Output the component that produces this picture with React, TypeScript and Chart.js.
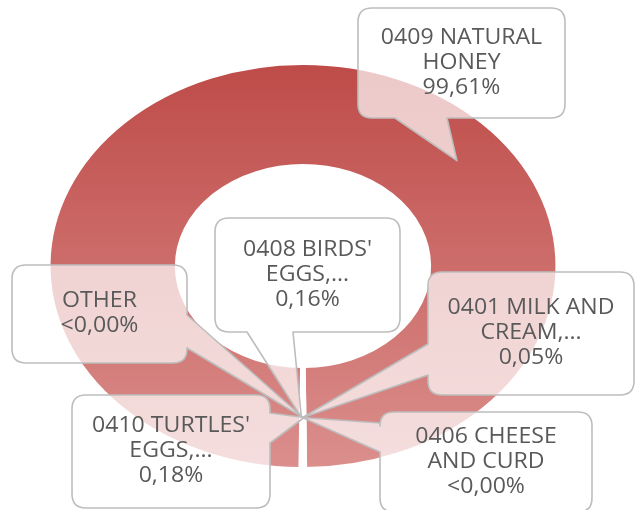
import React, { useEffect, useRef } from 'react';
import { Chart, registerables } from 'chart.js';

Chart.register(...registerables);

// ---- data ----
const categories = ['0401 MILK AND CREAM,...', '0406 CHEESE AND CURD', "0408 BIRDS' EGGS,...", '0409 NATURAL HONEY', "0410 TURTLES' EGGS,...", 'OTHER'];
const shares = [0.05, 0.001, 0.16, 99.61, 0.18, 0.001];
const shareLabels = ['0,05%', '<0,00%', '0,16%', '99,61%', '0,18%', '<0,00%'];
const labelLines = [
  ['0401 MILK AND', 'CREAM,...'],
  ['0406 CHEESE', 'AND CURD'],
  ["0408 BIRDS'", 'EGGS,...'],
  ['0409 NATURAL', 'HONEY'],
  ["0410 TURTLES'", 'EGGS,...'],
  ['OTHER'],
];

// ---- layout (callout boxes) ----
type Box = { x: number; y: number; w: number; h: number; side: string; b1: number; b2: number; ang?: number };
const boxes: Box[] = [
  { x: 428, y: 272, w: 206, h: 123, side: 'left', b1: 344, b2: 375 },
  { x: 380, y: 412, w: 212, h: 100, side: 'left', b1: 423, b2: 452 },
  { x: 215, y: 218, w: 185, h: 114, side: 'bottom', b1: 247, b2: 293 },
  { x: 358, y: 8, w: 207, h: 110, side: 'bottom', b1: 395, b2: 447, ang: -0.71 },
  { x: 72, y: 395, w: 198, h: 113, side: 'right', b1: 413, b2: 443 },
  { x: 12, y: 265, w: 175, h: 98, side: 'right', b1: 315, b2: 348 },
];

const SX = 1.256; // horizontal stretch of the ring
const FONT = '21px "Open Sans", sans-serif';
const TEXT_SX = 1.1;

function calloutPath(ctx: CanvasRenderingContext2D, b: Box, tx: number, ty: number) {
  const r = 14;
  const { x, y, w, h } = b;
  ctx.beginPath();
  ctx.moveTo(x + r, y);
  ctx.lineTo(x + w - r, y);
  ctx.quadraticCurveTo(x + w, y, x + w, y + r);
  if (b.side === 'right') {
    ctx.lineTo(x + w, b.b1);
    ctx.lineTo(tx, ty);
    ctx.lineTo(x + w, b.b2);
  }
  ctx.lineTo(x + w, y + h - r);
  ctx.quadraticCurveTo(x + w, y + h, x + w - r, y + h);
  if (b.side === 'bottom') {
    ctx.lineTo(b.b2, y + h);
    ctx.lineTo(tx, ty);
    ctx.lineTo(b.b1, y + h);
  }
  ctx.lineTo(x + r, y + h);
  ctx.quadraticCurveTo(x, y + h, x, y + h - r);
  if (b.side === 'left') {
    ctx.lineTo(x, b.b2);
    ctx.lineTo(tx, ty);
    ctx.lineTo(x, b.b1);
  }
  ctx.lineTo(x, y + r);
  ctx.quadraticCurveTo(x, y, x + r, y);
  ctx.closePath();
}

const stretchPlugin = {
  id: 'stretch',
  beforeDatasetsDraw(chart: any) {
    const arc = chart.getDatasetMeta(0).data[0];
    const ctx = chart.ctx;
    ctx.save();
    ctx.translate(arc.x, 0);
    ctx.scale(SX, 1);
    ctx.translate(-arc.x, 0);
  },
  afterDatasetsDraw(chart: any) {
    chart.ctx.restore();
  },
};

const calloutPlugin = {
  id: 'callouts',
  afterDraw(chart: any) {
    const ctx: CanvasRenderingContext2D = chart.ctx;
    const meta = chart.getDatasetMeta(0);
    meta.data.forEach((el: any, i: number) => {
      const b = boxes[i];
      const p = el.getProps(['x', 'y', 'startAngle', 'endAngle', 'innerRadius', 'outerRadius'], true);
      const a = b.ang !== undefined ? b.ang : (p.startAngle + p.endAngle) / 2;
      const rr = b.ang !== undefined
        ? p.innerRadius + 0.6 * (p.outerRadius - p.innerRadius)
        : (p.innerRadius + p.outerRadius) / 2;
      const tx = p.x + Math.cos(a) * rr * SX;
      const ty = p.y + Math.sin(a) * rr;
      ctx.save();
      calloutPath(ctx, b, tx, ty);
      ctx.fillStyle = 'rgba(255,255,255,0.7)';
      ctx.fill();
      ctx.lineWidth = 1.6;
      ctx.strokeStyle = '#BDBDBD';
      ctx.lineJoin = 'round';
      ctx.stroke();
      const lines = [...labelLines[i], shareLabels[i]];
      const lh = 25;
      const cx = b.x + b.w / 2;
      const cy = b.y + b.h / 2;
      ctx.font = FONT;
      ctx.fillStyle = '#595959';
      ctx.textAlign = 'center';
      ctx.textBaseline = 'middle';
      lines.forEach((ln, k) => {
        const ly = cy + (k - (lines.length - 1) / 2) * lh;
        ctx.save();
        ctx.translate(cx, ly);
        ctx.scale(TEXT_SX, 1);
        ctx.fillText(ln, 0, 0);
        ctx.restore();
      });
      ctx.restore();
    });
  },
};

export default function App() {
  const ref = useRef<HTMLCanvasElement>(null);
  useEffect(() => {
    if (!ref.current) return;
    const chart = new Chart(ref.current, {
      type: 'doughnut',
      data: {
        labels: categories,
        datasets: [
          {
            data: shares,
            clip: false,
            backgroundColor: (c: any) => {
              const area = c.chart.chartArea;
              if (!area) return '#C0504D';
              if (c.dataIndex !== 3) return '#FFFFFF';
              const g = c.chart.ctx.createLinearGradient(0, area.top, 0, area.bottom);
              g.addColorStop(0, '#BE4B48');
              g.addColorStop(1, '#DB8F8D');
              return g;
            },
            borderColor: '#FFFFFF',
            borderWidth: 2,
          } as any,
        ],
      },
      options: {
        animation: false,
        responsive: false,
        rotation: 180,
        cutout: '50%',
        layout: { padding: { top: 63, bottom: 41, left: 100, right: 130 } },
        plugins: { legend: { display: false }, tooltip: { enabled: false } },
      },
      plugins: [stretchPlugin, calloutPlugin],
    });
    return () => chart.destroy();
  }, []);
  return (
    <div style={{ position: 'absolute', left: 0, top: 0, width: 636, height: 510, background: '#fff' }}>
      <canvas ref={ref} width={636} height={510} style={{ width: 636, height: 510, display: 'block' }} />
    </div>
  );
}
